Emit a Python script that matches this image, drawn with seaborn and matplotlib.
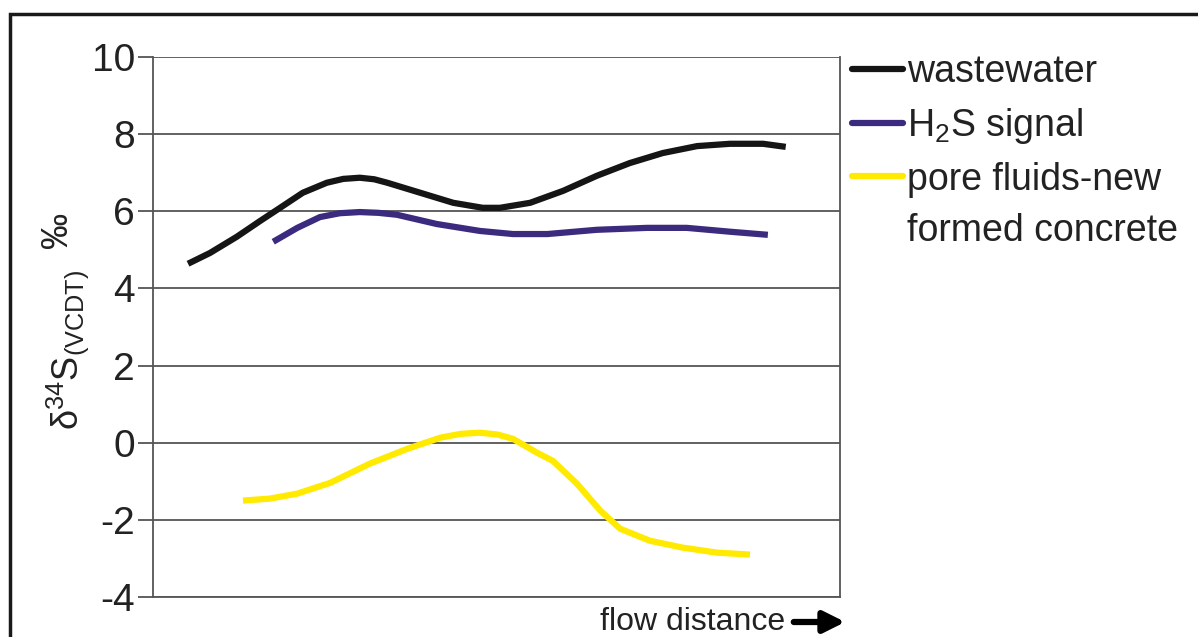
import pandas as pd
import matplotlib.pyplot as plt
import seaborn as sns
from matplotlib.lines import Line2D
from matplotlib.patches import Rectangle

# values (x = relative flow distance, 0-100)
waste_x = [5.1, 8.3, 12.2, 15.6, 18.5, 21.8, 25.3, 27.7, 30.1, 32.2, 34.1, 38.9, 43.7,
           48.0, 50.5, 54.9, 59.7, 64.6, 69.4, 74.2, 79.2, 84.0, 88.8, 92.1]
waste_y = [4.64, 4.92, 5.34, 5.75, 6.09, 6.48, 6.74, 6.84, 6.87, 6.83, 6.74, 6.48, 6.22,
           6.09, 6.09, 6.22, 6.53, 6.92, 7.25, 7.51, 7.69, 7.75, 7.75, 7.67]

h2s_x = [17.5, 21.0, 24.3, 27.2, 30.1, 32.8, 35.5, 41.3, 47.6, 52.4, 57.4, 64.6, 71.9,
         77.7, 84.0, 89.5]
h2s_y = [5.21, 5.57, 5.85, 5.95, 5.98, 5.96, 5.91, 5.67, 5.49, 5.41, 5.41, 5.52, 5.57,
         5.57, 5.47, 5.39]

pore_x = [13.1, 17.0, 21.0, 25.8, 31.6, 37.0, 41.8, 44.8, 47.6, 50.2, 52.4, 55.9, 58.2,
          61.7, 65.1, 68.0, 72.3, 77.1, 82.1, 86.9]
pore_y = [-1.50, -1.45, -1.32, -1.04, -0.54, -0.16, 0.13, 0.23, 0.26, 0.21, 0.10, -0.26,
          -0.47, -1.06, -1.76, -2.23, -2.54, -2.72, -2.85, -2.90]

series = ["wastewater", "H2S signal", "pore fluids"]
labels = ["wastewater", r"H$_2$S signal", "pore fluids-new"]
colors = ["#151515", "#3b2a7e", "#ffea00"]
yticks = [-4, -2, 0, 2, 4, 6, 8, 10]

sns.set_theme(style="white")
plt.rcParams["font.family"] = ["Liberation Sans", "DejaVu Sans"]
plt.rcParams["mathtext.fontset"] = "custom"
plt.rcParams["mathtext.rm"] = "Liberation Sans"
plt.rcParams["mathtext.it"] = "Liberation Sans"
plt.rcParams["axes.unicode_minus"] = False

df = pd.concat([
    pd.DataFrame({"x": waste_x, "y": waste_y, "s": series[0]}),
    pd.DataFrame({"x": h2s_x, "y": h2s_y, "s": series[1]}),
    pd.DataFrame({"x": pore_x, "y": pore_y, "s": series[2]}),
])

fig = plt.figure(figsize=(11.98, 6.37), dpi=100)
ax = fig.add_axes([153 / 1198, 40 / 637, 687 / 1198, 540 / 637])

grid_c = "#555555"
for t in yticks:
    ax.axhline(t, color=grid_c, lw=1.3, zorder=1)

sns.lineplot(data=df, x="x", y="y", hue="s", palette=dict(zip(series, colors)),
             linewidth=4.5, legend=False, ax=ax, zorder=3,
             solid_capstyle="butt", solid_joinstyle="round")

ax.set_xlim(0, 100)
ax.set_ylim(-4, 10)
ax.set_yticks(yticks)
ax.set_yticklabels([str(t) for t in yticks], fontsize=28, color="#222222")
ax.set_xticks([])
ax.tick_params(axis="y", length=11, width=1.3, color=grid_c, pad=2, left=True)
ax.set_xlabel("")
ax.set_ylabel("")
for side in ["left", "right", "bottom"]:
    ax.spines[side].set_color(grid_c)
    ax.spines[side].set_linewidth(1.3)
ax.spines["top"].set_visible(False)

# y label
fig.text(68 / 1198, 1 - 350 / 637, r"δ$^{34}$S$_{\mathrm{(VCDT)}}$", rotation=90,
         ha="center", va="center", fontsize=26, color="#222222")
fig.text(57 / 1198, 1 - 230 / 637, "‰", rotation=90, ha="center", va="center",
         fontsize=26, color="#222222")

# legend
handles = [Line2D([], [], color=c, lw=4.5) for c in colors]
handles.append(Line2D([], [], color="none", lw=4.5))
ax.legend(handles, labels + ["formed concrete"], loc="upper left",
          bbox_to_anchor=(852 / 1198, 1 - 54 / 637), bbox_transform=fig.transFigure,
          frameon=False, fontsize=27, handlelength=1.35, handletextpad=0.12,
          borderpad=0, borderaxespad=0, labelspacing=0.42, labelcolor="#222222")

# x label with arrow
fig.text(785 / 1198, 1 - 622 / 637, "flow distance", ha="right", va="center",
         fontsize=23, color="#222222")
ax.annotate("", xy=(848 / 1198, 1 - 622 / 637), xytext=(791 / 1198, 1 - 622 / 637),
            xycoords="figure fraction", textcoords="figure fraction",
            arrowprops=dict(arrowstyle="-|>", lw=4.5, color="black", mutation_scale=32))

# outer frame, cut off at the right and bottom
fig.add_artist(Rectangle((9.5 / 1198, -0.2), 1.2, 1.2 - 13.5 / 637,
                         transform=fig.transFigure, fill=False, lw=2.5,
                         edgecolor="#1a1a1a", clip_on=False))

plt.savefig("out.png", dpi=100)
plt.close()
